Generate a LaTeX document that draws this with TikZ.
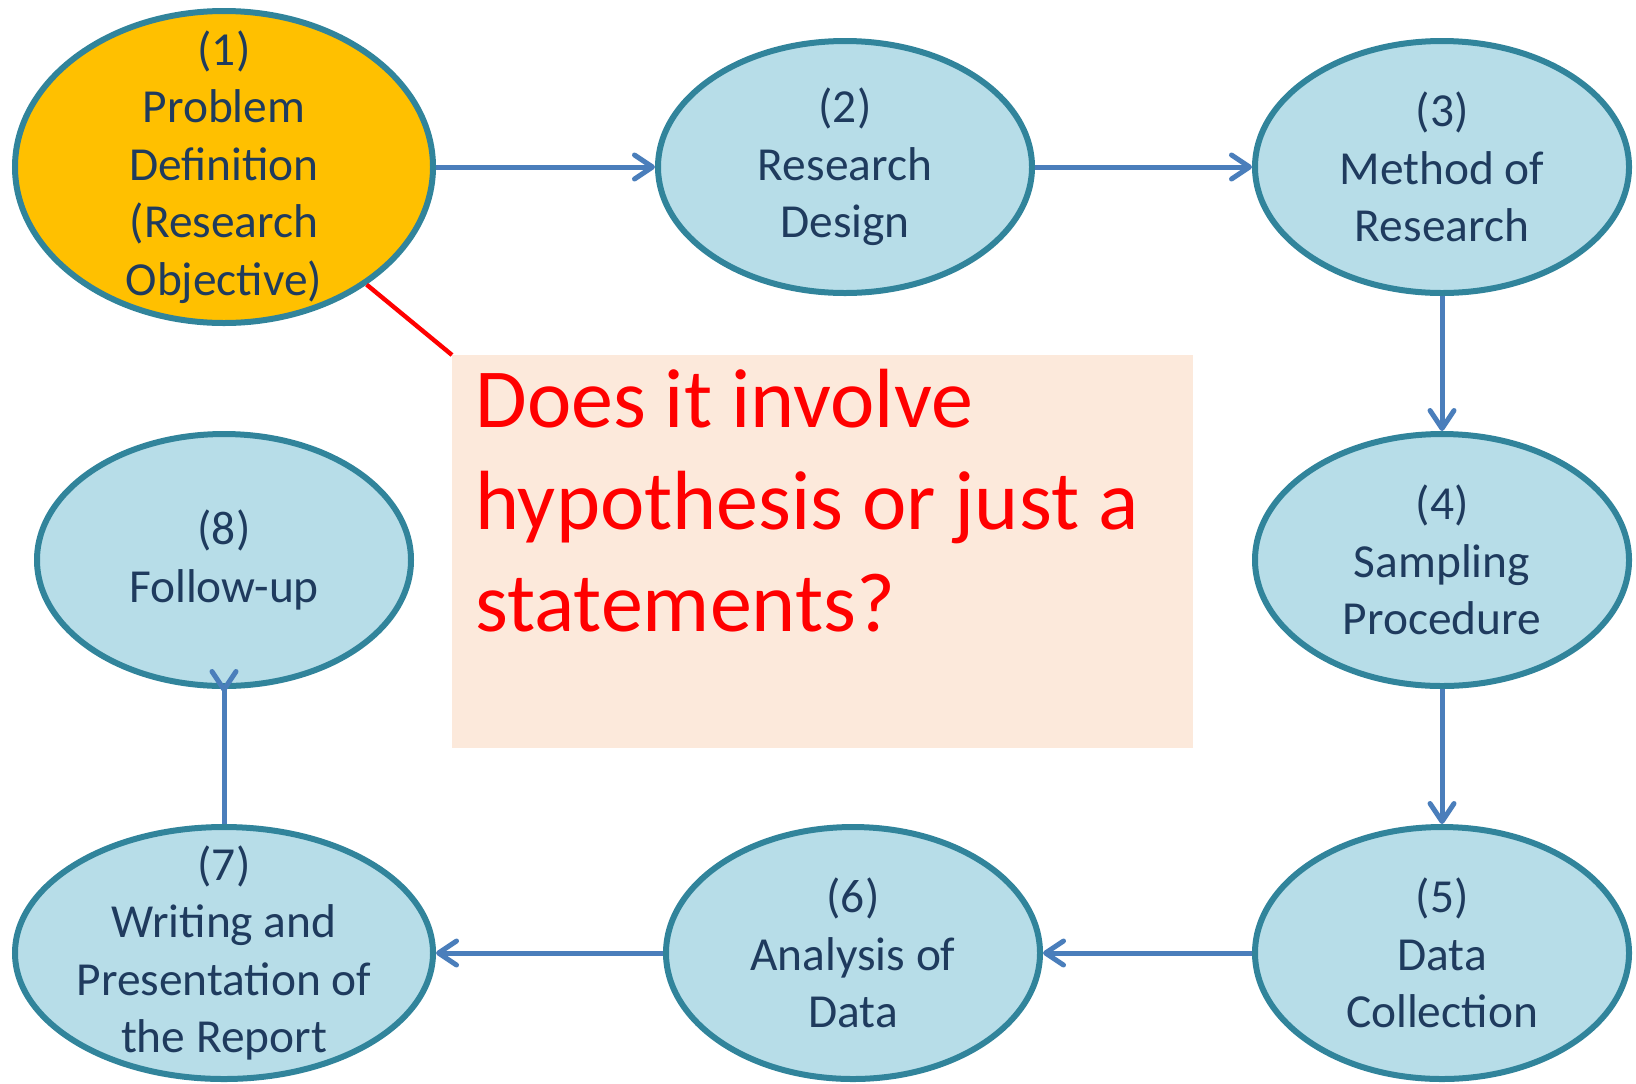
\documentclass[tikz,border=0pt]{standalone}
\usepackage{fontspec}
\setmainfont{Carlito}
\usetikzlibrary{shapes.geometric,arrows.meta}

\definecolor{stepfill}{HTML}{B7DDE8}
\definecolor{stepline}{HTML}{31849B}
\definecolor{steptext}{HTML}{1F3B5E}
\definecolor{flowblue}{HTML}{4A7EBB}
\definecolor{startfill}{HTML}{FFC000}
\definecolor{notefill}{HTML}{FCE9DB}

\begin{document}
\begin{tikzpicture}[x=0.5pt,y=-0.5pt]
% Diagram style
\tikzset{
    barb/.tip={Straight Barb[length=9pt,width=12pt,line cap=round,line join=round]},
    stage/.style={ellipse, draw=stepline, line width=3pt, fill=stepfill,
        minimum width=187pt, minimum height=126pt,
        inner xsep=0pt, inner ysep=-20pt,
        align=center, text=steptext, font=\fontsize{23.7}{28.7}\selectfont},
    wide/.style={minimum width=209pt},
    flowline/.style={draw=flowblue, line width=2.5pt},
    flow/.style={flowline, -barb}
}
\useasboundingbox (0,0) rectangle (1636,1083);

% Stages
\node[stage, wide, minimum height=156pt, fill=startfill] (Problem) at (224,167)
    {(1)\\Problem\\Definition\\(Research\\Objective)};
\node[stage] (Design) at (845,167) {(2)\\Research\\Design};
\node[stage] (Method) at (1442,167) {(3)\\Method of\\Research};
\node[stage] (Sampling) at (1442,560) {(4)\\Sampling\\Procedure};
\node[stage] (Collection) at (1442,953) {(5)\\Data\\Collection};
\node[stage] (Analysis) at (853,953) {(6)\\Analysis of\\Data};
\node[stage, wide] (Report) at (224,953) {(7)\\Writing and\\Presentation of\\the Report};
\node[stage] (Followup) at (224,560) {(8)\\Follow-up};

% Question box
\node[fill=notefill, inner sep=0pt, minimum width=370.5pt, minimum height=196.5pt,
    anchor=north west] (Note) at (452,355) {};
\node[anchor=base west, align=left, inner sep=0pt, text=red,
    font=\fontsize{42}{51}\selectfont] (Question) at (475,631)
    {Does it involve\\hypothesis or just a\\statements?};

% Connection
\draw[flow] (Problem) -- (Design);
\draw[flow] (Design) -- (Method);
\draw[flow] (Method) -- (Sampling);
\draw[flow] (Sampling) -- (Collection);
\draw[flow] (Collection) -- (Analysis);
\draw[flow] (Analysis) -- (Report);
\draw[flowline, {barb[reversed]}-, shorten <=-10pt] (Followup) -- (Report);
\draw[red, line width=2.2pt] (Problem) -- (Note.north west);
\end{tikzpicture}
\end{document}
